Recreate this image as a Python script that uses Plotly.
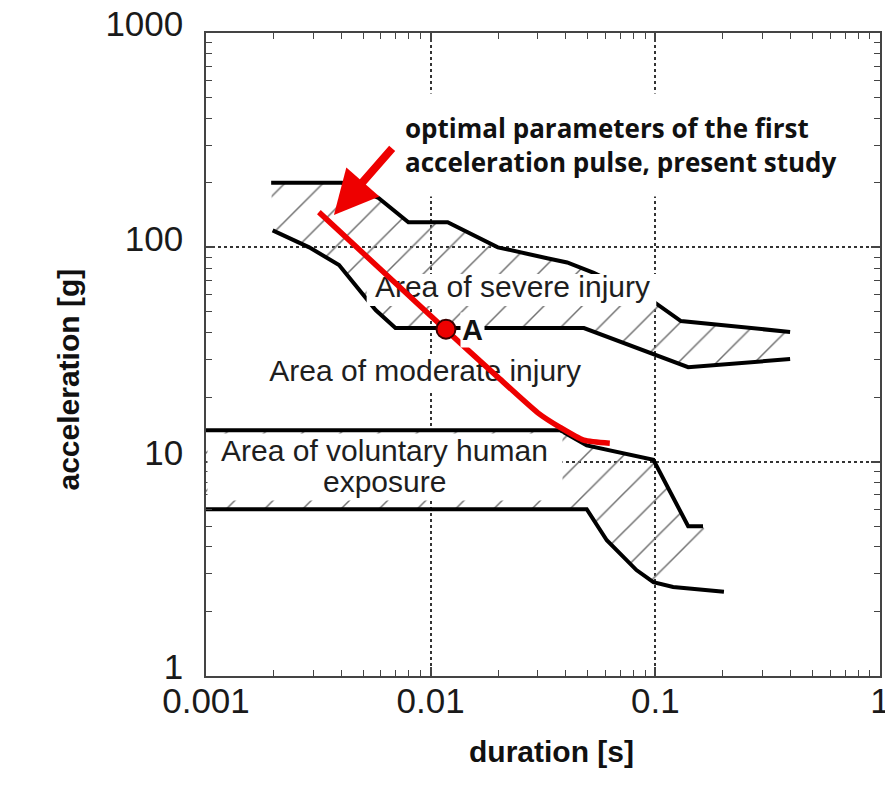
import numpy as np
import plotly.graph_objects as go

# ---------------- data ----------------
# Area of severe injury: upper and lower boundary lines
severe_upper_x = [0.00195, 0.00403, 0.00586, 0.00796, 0.0119, 0.0199, 0.033, 0.0405, 0.0532, 0.100, 0.130, 0.398]
severe_upper_y = [200, 200, 170, 131, 131, 100, 89, 85, 76, 55, 45.3, 40.3]
severe_lower_x = [0.00198, 0.00288, 0.00391, 0.00514, 0.00569, 0.00697, 0.0481, 0.140, 0.398]
severe_lower_y = [120, 100, 82.7, 58.6, 51, 42, 42, 27.6, 30.1]

# Area of voluntary human exposure: upper and lower boundary lines
volunt_upper_x = [0.001, 0.0377, 0.0495, 0.098, 0.140, 0.163]
volunt_upper_y = [14.0, 14.0, 11.9, 10.2, 5.0, 5.0]
volunt_lower_x = [0.001, 0.0495, 0.0608, 0.0824, 0.098, 0.120, 0.202]
volunt_lower_y = [6.0, 6.0, 4.3, 3.12, 2.74, 2.6, 2.47]
# extra corner of the hatched region beyond the upper line end
volunt_hatch_x = [0.172, 0.125]
volunt_hatch_y = [4.5, 2.6]

# optimal parameters of the first acceleration pulse (red curve)
optimal_x = [0.00318, 0.0117, 0.0199, 0.030, 0.0375, 0.048, 0.0627]
optimal_y = [146, 41.1, 24.8, 16.9, 14.5, 12.6, 12.2]

# point A
point_a_x = [0.0117]
point_a_y = [41.5]

x_tick_vals = [0.001, 0.01, 0.1, 1]
x_tick_text = ["0.001", "0.01", "0.1", "1"]
y_tick_vals = [1, 10, 100, 1000]
y_tick_text = ["1", "10", "100", "1000"]

# ---------------- figure ----------------
fig = go.Figure()

hatch = dict(shape="/", fgcolor="#707070", bgcolor="rgba(0,0,0,0)",
             size=27, solidity=0.055, fillmode="replace")

# hatched band: severe injury
fig.add_trace(go.Scatter(
    x=severe_upper_x + severe_lower_x[::-1],
    y=severe_upper_y + severe_lower_y[::-1],
    mode="none", fill="toself", fillcolor="rgba(0,0,0,0)",
    fillpattern=hatch, hoverinfo="skip", showlegend=False))

# hatched band: voluntary human exposure
fig.add_trace(go.Scatter(
    x=volunt_upper_x + volunt_hatch_x + volunt_lower_x[::-1],
    y=volunt_upper_y + volunt_hatch_y + volunt_lower_y[::-1],
    mode="none", fill="toself", fillcolor="rgba(0,0,0,0)",
    fillpattern=hatch, hoverinfo="skip", showlegend=False))

# black boundary lines
for xs, ys in [(severe_upper_x, severe_upper_y), (severe_lower_x, severe_lower_y),
               (volunt_upper_x, volunt_upper_y), (volunt_lower_x, volunt_lower_y)]:
    fig.add_trace(go.Scatter(x=xs, y=ys, mode="lines",
                             line=dict(color="#000000", width=4),
                             hoverinfo="skip", showlegend=False))

# white backgrounds of the two labels the red curve runs over
label_boxes = [
    ([0.00519, 0.101, 0.101, 0.00519, 0.00519], [53.2, 53.2, 75.1, 75.1, 53.2]),
    ([0.00170, 0.0520, 0.0520, 0.00170, 0.00170], [21.1, 21.1, 31.1, 31.1, 21.1]),
]
for bx, by in label_boxes:
    fig.add_trace(go.Scatter(x=bx, y=by, mode="none", fill="toself",
                             fillcolor="#ffffff", hoverinfo="skip", showlegend=False))

label_font = dict(family="Liberation Sans, Arial", size=30, color="#1e1e1e")
fig.add_trace(go.Scatter(
    x=[10 ** -1.6358, 10 ** -2.0243], y=[10 ** 1.8054, 10 ** 1.4134],
    mode="text", text=["Area of severe injury", "Area of moderate injury"],
    textposition="middle center", textfont=label_font,
    hoverinfo="skip", showlegend=False))

# red curve
fig.add_trace(go.Scatter(x=optimal_x, y=optimal_y, mode="lines",
                         line=dict(color="#ee0000", width=5.5, shape="spline", smoothing=0.6),
                         hoverinfo="skip", showlegend=False))
# point A
fig.add_trace(go.Scatter(x=point_a_x, y=point_a_y, mode="markers",
                         marker=dict(color="#ee0000", size=19,
                                     line=dict(color="#3a0000", width=2)),
                         hoverinfo="skip", showlegend=False))

axis_common = dict(
    type="log", showline=True, linecolor="#444444", linewidth=1.5,
    mirror="ticks", ticks="inside", ticklen=9, tickcolor="#444444", tickwidth=1.5,
    tickfont=dict(family="Liberation Sans, Arial", size=35, color="#1a1a1a"),
    showgrid=True, gridcolor="#333333", griddash="dot", gridwidth=1.6,
    zeroline=False, ticklabeloverflow="allow", automargin=False,
    minor=dict(ticks="inside", ticklen=6, tickcolor="#444444", tickwidth=1.2,
               dtick="D1", showgrid=False),
)

fig.update_layout(
    width=885, height=785,
    margin=dict(l=206, r=5, t=33, b=109, autoexpand=False),
    paper_bgcolor="#ffffff", plot_bgcolor="#ffffff",
    showlegend=False,
    xaxis=dict(axis_common, range=[-3, 0], tickmode="array",
               tickvals=x_tick_vals, ticktext=x_tick_text, ticklabelstandoff=-7),
    yaxis=dict(axis_common, range=[0, 3], tickmode="array",
               tickvals=y_tick_vals, ticktext=y_tick_text,
               ticklabelstandoff=14, ticklabelshift=-9),
)

annotations = [
    # voluntary exposure label: white box hides grid and hatching, two text lines
    dict(x=-2.2053, y=0.9748, xref="x", yref="y", showarrow=False,
         text=" ", bgcolor="#ffffff", width=352, height=64),
    dict(x=-2.2053, y=1.0542, xref="x", yref="y", showarrow=False,
         text="Area of voluntary human", font=label_font),
    dict(x=-2.2053, y=0.9095, xref="x", yref="y", showarrow=False,
         text="exposure", font=label_font),
    # point A label
    dict(x=-1.815, y=1.6141, xref="x", yref="y", showarrow=False,
         text="<b>A</b>", font=dict(family="Liberation Sans, Arial", size=29, color="#111111"),
         bgcolor="#ffffff", borderpad=1),
    # explanation text
    dict(x=-2.192, y=2.4774, xref="x", yref="y", showarrow=False,
         xanchor="left", yanchor="middle", align="left",
         text="<b>optimal parameters of the first<br>acceleration pulse, present study</b>",
         font=dict(family="Open Sans", size=26, color="#111111"),
         bgcolor="#ffffff", borderpad=16),
    # red arrow
    dict(x=np.log10(0.00371), y=np.log10(141.5), xref="x", yref="y",
         ax=np.log10(0.00683), ay=np.log10(294), axref="x", ayref="y",
         text="", showarrow=True, arrowcolor="#ee0000", arrowwidth=8,
         arrowhead=2, arrowsize=1.1),
    # axis titles
    dict(x=(551 - 206) / 674, y=(676 - 770) / 643, xref="paper", yref="paper",
         showarrow=False, text="<b>duration [s]</b>",
         font=dict(family="Liberation Sans, Arial", size=30, color="#111111")),
    dict(x=(50 - 206) / 674, y=(676 - 380) / 643, xref="paper", yref="paper",
         showarrow=False, text="<b>acceleration [g]</b>", textangle=-90,
         font=dict(family="Liberation Sans, Arial", size=30, color="#111111")),
]
fig.update_layout(annotations=annotations)

fig.write_html("out.html")
